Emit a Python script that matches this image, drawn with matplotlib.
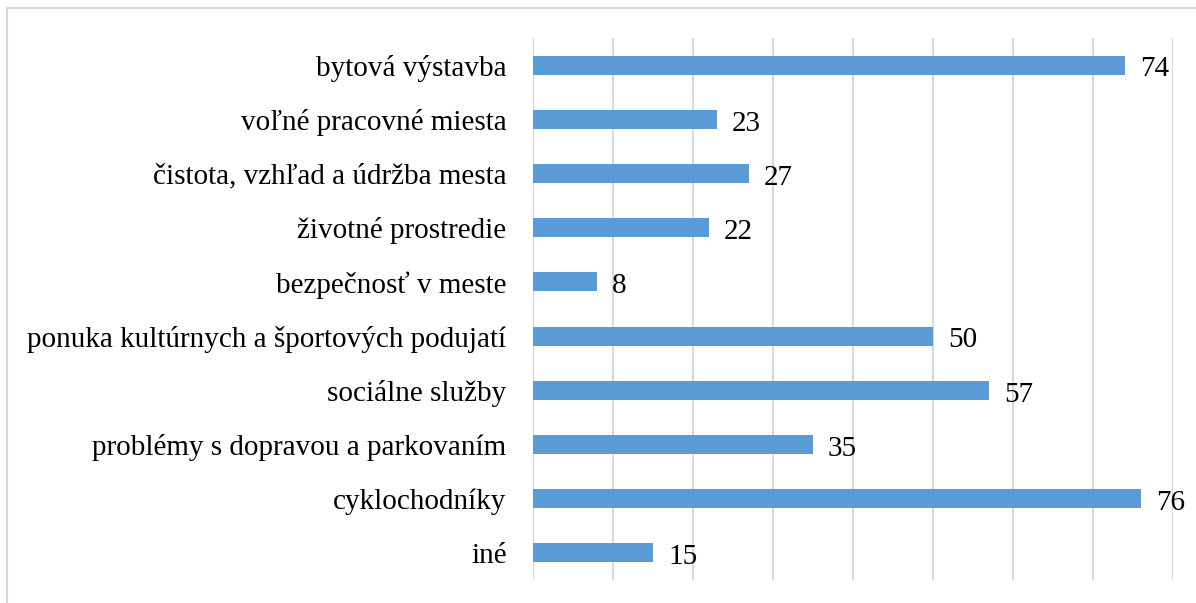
import matplotlib.pyplot as plt
from matplotlib.lines import Line2D

# Data (top to bottom as in the chart)
categories = ['bytová výstavba', 'voľné pracovné miesta', 'čistota, vzhľad a údržba mesta',
              'životné prostredie', 'bezpečnosť v meste',
              'ponuka kultúrnych a športových podujatí', 'sociálne služby',
              'problémy s dopravou a parkovaním', 'cyklochodníky', 'iné']
values = [74, 23, 27, 22, 8, 50, 57, 35, 76, 15]

plt.rcParams['font.family'] = ['Liberation Serif', 'DejaVu Serif']

fig = plt.figure(figsize=(11.96, 6.03), dpi=100)
ax = fig.add_axes([533/1196, 1 - 580/603, (1172.5 - 533)/1196, (580 - 38)/603])

ypos = list(range(len(categories)))
ax.barh(ypos, values, height=0.35, color='#5B9BD5', zorder=3)

for y, v in zip(ypos, values):
    ax.text(v + 1.9, y + 0.21, str(v), va='baseline', ha='left', fontsize=21, color='black')

ax.set_xlim(0, 80)
ax.set_ylim(len(categories) - 0.5, -0.5)
ax.set_xticks(range(0, 81, 10))
ax.set_xticklabels([])
ax.set_yticks(ypos)
ax.set_yticklabels(categories, fontsize=21)
ax.tick_params(axis='both', length=0)
ax.tick_params(axis='y', pad=19)
ax.grid(axis='x', color='#D9D9D9', linewidth=1.5, zorder=0)
for s in ax.spines.values():
    s.set_visible(False)

# outer chart border (only left and top are visible in the picture)
fig.add_artist(Line2D([7/1196, 7/1196], [0, 1 - 8/603], transform=fig.transFigure,
                      color='#D9D9D9', linewidth=1.5))
fig.add_artist(Line2D([7/1196, 1], [1 - 8/603, 1 - 8/603], transform=fig.transFigure,
                      color='#D9D9D9', linewidth=1.5))

fig.savefig('out.png', dpi=100)
